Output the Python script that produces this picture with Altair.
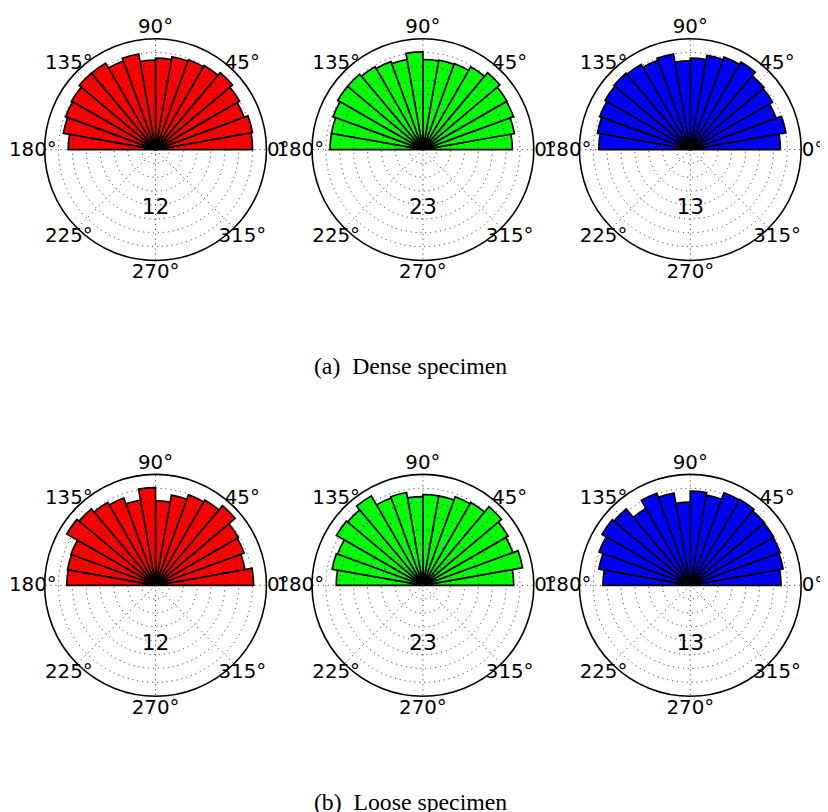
import math
import altair as alt
import pandas as pd

# ---------------- data ----------------
bar_start_deg = list(range(0, 180, 10))          # 18 sectors, 10 degrees wide
dense_12 = [7.0, 7.1, 6.8, 7.0, 7.25, 7.0, 6.9, 6.8, 6.6, 6.45, 7.0, 6.8, 7.2, 7.2, 7.0, 6.9, 6.75, 6.3]
dense_23 = [6.45, 6.7, 6.95, 7.0, 7.25, 6.9, 6.6, 6.55, 6.5, 7.05, 6.6, 6.75, 6.9, 7.1, 7.1, 6.9, 6.7, 6.7]
dense_13 = [6.5, 7.0, 6.6, 6.85, 6.95, 7.3, 7.1, 6.9, 6.6, 6.4, 7.0, 6.85, 7.1, 7.2, 7.1, 6.95, 6.8, 6.6]
loose_12 = [7.07, 6.55, 6.8, 6.9, 7.5, 7.1, 6.95, 6.6, 6.1, 7.05, 6.25, 6.7, 6.9, 7.2, 7.4, 6.5, 6.45, 6.4]
loose_23 = [6.55, 7.3, 6.9, 7.1, 7.4, 6.9, 6.8, 6.55, 6.55, 6.4, 6.8, 6.7, 7.45, 7.1, 7.2, 6.55, 6.65, 6.25]
loose_13 = [6.55, 6.8, 6.9, 6.95, 7.0, 7.15, 7.1, 6.6, 6.8, 6.0, 6.75, 7.07, 6.4, 7.2, 7.35, 7.0, 6.7, 6.3]

tick_deg = [0, 45, 90, 135, 180, 225, 270, 315]
tick_text = ["0°", "45°", "90°", "135°", "180°", "225°", "270°", "315°"]
grid_rings = [1, 2, 3, 4, 5, 6, 7]
outer_ring = [8]
panel_labels = ["12", "23", "13"]
panel_colors = ["#ff0000", "#00ff00", "#0000ff"]
captions = ["(a)\u2002Dense specimen", "(b)\u2002Loose specimen"]
rows_values = [[dense_12, dense_23, dense_13], [loose_12, loose_23, loose_13]]

# ---------------- layout / style ----------------
PX = 14.0                                   # pixels per radial unit
R_MAX = 8
LABEL_R = 8.85
col_px = [(149, 135), (135, 135), (135, 131)]   # px left / right of the pole
row_px = [(139, 300), (140, 218)]               # px above / below the pole


def panel(values, col, row):
    left, right = col_px[col]
    top, bottom = row_px[row]
    xs = alt.Scale(domain=[-left / PX, right / PX], nice=False, zero=False)
    ys = alt.Scale(domain=[-bottom / PX, top / PX], nice=False, zero=False)
    rs = alt.Scale(type="linear", domain=[0, R_MAX], range=[0, R_MAX * PX], zero=True, nice=False)
    ts = alt.Scale(type="linear", domain=[0, 360], range=[0, 2 * math.pi], zero=False, nice=False)

    def X(f):
        return alt.X(f, type="quantitative", scale=xs, axis=None)

    def Y(f):
        return alt.Y(f, type="quantitative", scale=ys, axis=None)

    pole = dict(cx="0", cy="0")

    # vega theta: clockwise from north, in degrees here
    bars = alt.Chart(pd.DataFrame({"a0": bar_start_deg, "v": values})).transform_calculate(
        th0="80 - datum.a0", th1="90 - datum.a0", **pole
    ).mark_arc(fill=panel_colors[col], stroke="black", strokeWidth=1.7).encode(
        x=X("cx"), y=Y("cy"),
        theta=alt.Theta("th0:Q", scale=ts, stack=None),
        theta2=alt.Theta2("th1:Q"),
        radius=alt.Radius("v:Q", scale=rs),
    )

    rings = alt.Chart(pd.DataFrame({"r": grid_rings})).transform_calculate(
        t0="0", t1="360", **pole
    ).mark_arc(filled=False, stroke="#222222", strokeWidth=1, strokeDash=[1, 4]).encode(
        x=X("cx"), y=Y("cy"),
        theta=alt.Theta("t0:Q", scale=ts, stack=None),
        theta2=alt.Theta2("t1:Q"),
        radius=alt.Radius("r:Q", scale=rs),
    )

    spokes = alt.Chart(pd.DataFrame({"a": tick_deg})).transform_calculate(
        ex=f"{R_MAX} * cos(datum.a * PI / 180)",
        ey=f"{R_MAX} * sin(datum.a * PI / 180)",
        **pole,
    ).mark_rule(stroke="#222222", strokeWidth=1, strokeDash=[1, 4]).encode(
        x=X("cx"), y=Y("cy"), x2=alt.X2("ex:Q"), y2=alt.Y2("ey:Q")
    )

    outer = alt.Chart(pd.DataFrame({"r": outer_ring})).transform_calculate(
        t0="0", t1="360", **pole
    ).mark_arc(filled=False, stroke="black", strokeWidth=1.6).encode(
        x=X("cx"), y=Y("cy"),
        theta=alt.Theta("t0:Q", scale=ts, stack=None),
        theta2=alt.Theta2("t1:Q"),
        radius=alt.Radius("r:Q", scale=rs),
    )

    lab_base = alt.Chart(pd.DataFrame({"a": tick_deg, "t": tick_text})).transform_calculate(
        lx=f"{LABEL_R} * cos(datum.a * PI / 180)",
        ly=f"{LABEL_R} * sin(datum.a * PI / 180)",
    )
    lab_enc = dict(x=X("lx"), y=Y("ly"), text="t:N")
    layers = [bars, rings, spokes, outer]
    if col == 2:
        layers.append(lab_base.transform_filter("datum.a != 0").mark_text(
            font="DejaVu Sans", fontSize=20, color="black").encode(**lab_enc))
        layers.append(lab_base.transform_filter("datum.a == 0").mark_text(
            font="DejaVu Sans", fontSize=20, color="black", clip=True).encode(**lab_enc))
    else:
        layers.append(lab_base.mark_text(font="DejaVu Sans", fontSize=20, color="black").encode(**lab_enc))

    num = alt.Chart(pd.DataFrame({"t": [panel_labels[col]]})).transform_calculate(
        nx="0", ny=f"{-58 / PX}"
    ).mark_text(font="DejaVu Sans", fontSize=22, color="black").encode(
        x=X("nx"), y=Y("ny"), text="t:N"
    )
    layers.append(num)

    if col == 1:
        cap = alt.Chart(pd.DataFrame({"t": [captions[row]]})).transform_calculate(
            nx=f"{-12.5 / PX}", ny=f"{-220 / PX}"
        ).mark_text(font="Liberation Serif", fontSize=24, color="black").encode(
            x=X("nx"), y=Y("ny"), text="t:N"
        )
        layers.append(cap)

    return alt.layer(*layers).properties(width=left + right, height=top + bottom)


panels = [panel(v, ci, ri) for ri, vals in enumerate(rows_values) for ci, v in enumerate(vals)]

chart = alt.concat(*panels, columns=3, spacing=0, bounds="flush").properties(
    padding={"left": 0, "top": 0, "right": 0, "bottom": 0}
).configure_view(strokeWidth=0)

chart.save("out.html", embed_options={"renderer": "svg", "actions": False})
